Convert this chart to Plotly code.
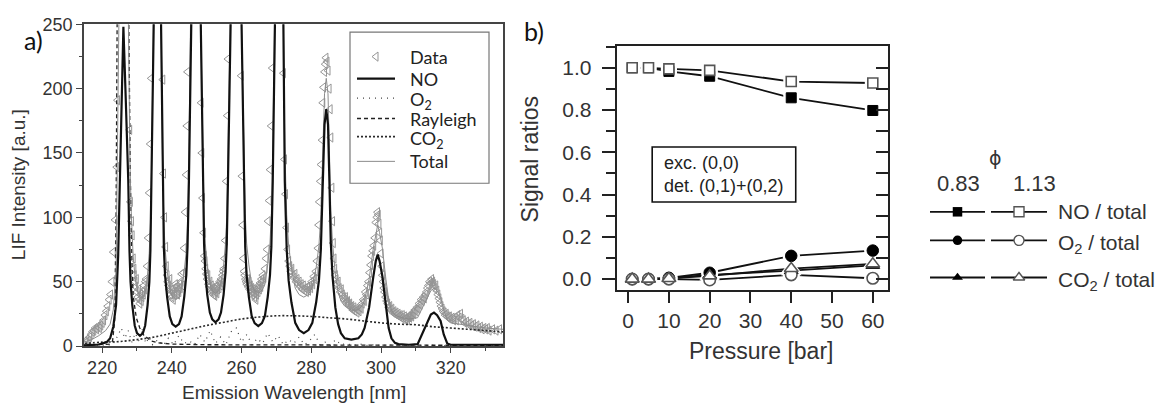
import plotly.graph_objects as go

W, H = 1175, 416

# ---------------- Panel a: spectra (wavelength nm, LIF intensity a.u.) ----------------
no_curve = [(214.8,0.5),(217.0,0.8),(219.0,1.2),(221.3,3),(222.3,6),(223.2,15),(224.0,32),(224.6,70),
    (225.1,128),(225.5,190),(226.1,248),(226.8,190),(227.5,128),(227.85,74),(228.15,50),(228.65,32),
    (229.35,16),(230.0,10),(230.85,8),(231.7,10),(232.35,16),(233.05,32),(233.55,50),(233.85,74),
    (234.2,128),(234.8,250),(235.85,480),(236.9,250),(237.3,128),(237.7,77),(238.05,55),(238.65,38),
    (239.4,23),(240.15,17),(241.1,15),(242.05,17),(242.8,23),(243.55,38),(244.15,55),(244.5,77),
    (244.9,128),(245.4,250),(246.85,480),(248.3,250),(248.9,128),(249.25,79),(249.6,57),(250.15,40),
    (250.9,26),(251.6,20.7),(252.5,18.5),(253.4,20.7),(254.1,26),(254.85,40),(255.4,57),(255.75,79),
    (256.1,128),(256.6,250),(258.3,480),(260.0,250),(260.6,128),(261.05,77),(261.45,55),(262.1,38),
    (262.9,23.4),(263.75,17.8),(264.8,15.5),(265.85,17.8),(266.7,23.4),(267.5,38),(268.15,55),
    (268.55,77),(268.95,128),(269.5,250),(270.75,480),(272.0,250),(272.4,128),(272.95,75),(273.5,51),
    (274.3,34),(275.4,18),(276.5,12.4),(277.85,10),(279.2,12.4),(280.3,18),(281.4,34),(282.2,51),
    (282.75,75),(283.3,128),(283.8,172),(284.3,184),(284.8,172),(285.2,128),(285.6,80),(286.1,54),
    (286.9,30),(287.7,17),(288.5,10),(289.6,6),(291.5,5),(293.5,6),(294.5,9),(295.3,14),(296.0,22),
    (296.6,30),(297.8,54),(298.5,66),(299.05,71),(299.6,66),(300.4,54),(301.4,30),(302.2,14),(303.0,6),
    (304.0,2.5),(305.0,1.5),(308.0,1),(310.5,1.5),(311.4,7),(312.3,13),(313.3,19.5),(314.3,24.5),
    (315.2,26),(316.1,24),(317.1,19.5),(318.0,9),(319.0,2),(320.0,1),(335.0,1)]

total_curve = [(214.8,3),(217,5),(219,8),(221,12),(222.3,17),(223.2,28),(224.0,60),(224.4,140),
    (224.8,250),(226.1,600),(227.6,250),(228.0,140),(228.4,100),(228.9,70),(229.5,52),(230.2,42),
    (230.9,38),(231.7,38),(232.4,42),(233.0,55),(233.5,72),(233.85,95),(234.2,140),(234.75,250),
    (235.85,500),(236.95,250),(237.3,150),(237.7,98),(238.05,76),(238.65,58),(239.4,44),(240.15,38),
    (241.1,36),(242.05,38),(242.8,44),(243.55,58),(244.15,74),(244.5,95),(244.9,150),(245.35,250),
    (246.85,500),(248.3,250),(248.9,150),(249.25,102),(249.6,80),(250.15,62),(250.9,49),(251.6,43),
    (252.5,41),(253.4,43),(254.1,49),(254.85,63),(255.4,80),(255.75,100),(256.1,150),(256.55,250),
    (258.3,500),(260.0,250),(260.6,150),(261.05,103),(261.45,80),(262.1,63),(262.9,48),(263.75,43),
    (264.8,41),(265.85,43),(266.7,48),(267.5,63),(268.15,80),(268.55,103),(268.95,152),(269.45,250),
    (270.75,500),(272.0,250),(272.4,155),(272.95,102),(273.5,78),(274.3,61),(275.4,45),(276.5,40),
    (277.85,38),(279.2,40),(280.3,46),(281.4,61),(282.2,78),(282.75,102),(283.3,152),(283.8,196),
    (284.3,208),(284.8,196),(285.2,152),(285.6,105),(286.1,80),(286.9,56),(287.7,42),(288.5,35),
    (289.6,31),(291.5,28),(293.5,28),(294.5,31),(295.3,36),(296.0,44),(296.6,52),(297.8,76),
    (298.5,88),(299.05,94),(299.6,88),(300.4,76),(301.4,52),(302.2,36),(303.0,28),(304.0,24),
    (306.0,22),(308.0,21),(310.5,22),(311.4,27),(312.3,33),(313.3,38),(314.3,43),(315.2,45),
    (316.1,43),(317.1,38),(318.0,28),(319.0,20),(320.0,18),(325,16),(330,14),(335,13)]

rayleigh_curve = [(215,0.5),(220,0.8),(222,1.5),(223,4),(223.6,20),(224.0,100),(224.3,250),(226.0,700),
    (227.8,250),(228.1,130),(228.6,60),(228.9,39),(229.8,22),(230.8,14),(231.8,9),(232.7,7),(234,4),
    (236,2.5),(240,1.5),(250,1),(270,0.8),(300,0.6),(335,0.5)]

co2_curve = [(215,2),(220,3),(225,3.5),(230,5),(235,7),(240,10),(245,13),(250,16),(255,18.5),(260,21),
    (265,22.5),(270,23.5),(275,23.5),(280,23),(285,22),(290,21),(295,19.5),(300,18),(305,17),(310,16.5),
    (315,15),(320,14),(325,13),(330,12),(335,11)]

o2_curve = [(215,0),(220,0.5),(223,1),(224.5,8),(225.5,14),(226.5,6),(227.5,12),(228.5,3),(229.5,10),
    (230.5,4),(231.5,13),(232.5,2),(233.5,7),(234.5,1),(236,5),(237.5,0.5),(239,6),(240.5,1),(242,8),
    (243.5,2),(245,4),(246.5,1),(248,9),(249.5,3),(251,12),(252.5,2),(254,7),(255.5,1),(257,11),
    (258.5,14),(260,3),(261.5,9),(263,1),(264.5,6),(266,2),(267.5,10),(269,3),(270.5,8),(272,1),
    (273.5,5),(275,2),(276.5,7),(278,1),(279.5,4),(281,9),(282.5,1),(284,3),(285.5,0.5),(287,5),
    (288.5,1),(290,2),(292,0.5),(294,1.5),(296,0.5),(298,1),(300,0.5),(303,1),(306,0.3),(309,1),
    (312,0.3),(315,0.8),(318,0.3),(321,0.5),(325,0.3),(330,0.3),(335,0.2)]

data_points = [(215.2,3),(215.6,5),(216.0,4),(216.4,7),(216.8,9),(217.2,11),(217.6,12),(218.0,14),(218.4,13),
    (218.8,15),(219.2,14),(219.6,16),(220.0,18),(220.4,20),(220.8,24),(221.2,27),(221.6,31),(222.0,36),
    (222.4,40),(222.8,50),(223.2,73),(223.7,98),(224.2,139),(224.4,191),
    (227.9,168),(228.1,112),(228.4,97),(228.6,86),(228.9,68),(229.1,60),
    (229.2,55),(229.4,50),(229.6,46),(229.8,52),(230.0,42),(230.2,38),(230.4,44),(230.6,36),(230.8,33),
    (231.0,40),(231.2,35),(231.4,38),(231.6,42),(231.8,40),(232.0,47),(232.2,44),(232.4,50),(232.6,52),
    (232.9,62),(233.2,84),(233.5,119),(233.8,157),(234.1,208),
    (237.4,207),(237.6,134),(237.9,100),(238.2,77),(238.4,62),
    (238.6,55),(238.8,50),(239.0,47),(239.2,44),(239.4,52),(239.6,40),(239.8,44),(240.0,38),(240.2,42),
    (240.4,36),(240.6,45),(240.8,40),(241.0,48),(241.2,42),(241.4,46),(241.6,40),(241.8,44),(242.0,42),
    (242.2,48),(242.4,45),(242.6,50),(242.8,56),(243.0,47),(243.3,57),(243.5,76),(243.8,104),(244.1,133),
    (244.3,171),(244.5,213),
    (248.4,189),(248.6,150),(248.8,115),(249.1,88),(249.3,70),
    (249.5,66),(249.7,60),(249.9,56),(250.1,52),(250.3,55),(250.5,48),(250.7,46),(250.9,50),(251.1,44),
    (251.3,47),(251.5,42),(251.7,45),(251.9,40),(252.1,44),(252.3,39),(252.5,42),(252.7,46),(252.9,41),
    (253.1,44),(253.3,48),(253.5,45),(253.7,50),(253.9,47),(254.1,52),(254.3,49),(254.5,55),(254.7,58),
    (254.9,60),(255.1,68),(255.3,82),(255.6,128),(255.9,179),(256.1,223),
    (259.9,210),(260.1,132),(260.3,94),(260.5,68),(260.7,58),
    (260.9,55),(261.1,52),(261.3,50),(261.5,48),(261.7,52),(261.9,46),(262.1,50),(262.3,44),(262.5,47),
    (262.7,42),(262.9,45),(263.1,40),(263.3,44),(263.5,41),(263.7,38),(263.9,43),(264.1,36),(264.3,40),
    (264.5,45),(264.7,42),(264.9,47),(265.1,44),(265.3,49),(265.5,46),(265.7,52),(265.9,50),(266.1,55),
    (266.4,53),(266.7,60),(267.0,68),(267.3,75),(267.6,97),(267.9,113),(268.2,137),(268.5,171),(268.8,216),
    (272.0,212),(272.3,145),(272.6,118),(272.9,92),(273.2,75),(273.5,66),
    (273.8,62),(274.1,58),(274.4,60),(274.7,55),(275.0,53),(275.3,56),(275.6,50),(275.9,52),(276.2,48),
    (276.5,50),(276.8,46),(277.1,48),(277.4,44),(277.7,47),(278.0,43),(278.3,45),(278.6,42),(278.9,46),
    (279.2,43),(279.5,47),(279.8,45),(280.1,50),(280.4,48),(280.7,54),(281.0,52),(281.3,58),(281.6,66),
    (281.9,76),(282.1,94),(282.3,112),(282.6,128),(282.8,141),(283.1,160),(283.3,189),(283.5,201),
    (283.8,213),(284.0,219),(284.2,224),(284.5,221),(284.8,214),(285.1,200),(285.4,184),(285.6,162),
    (285.9,123),(286.1,97),(286.3,80),(286.5,68),(286.7,60),(286.9,55),
    (287.1,52),(287.4,48),(287.7,50),(288.0,45),(288.3,42),(288.6,44),(288.9,40),(289.2,38),(289.5,36),
    (289.8,38),(290.1,34),(290.4,35),(290.7,32),(291.0,33),(291.3,30),(291.6,31),(291.9,28),(292.2,30),
    (292.5,27),(292.8,29),(293.1,26),(293.4,28),(293.7,27),(294.0,30),(294.3,29),(294.6,33),(294.9,36),
    (295.2,35),(295.5,42),(295.8,40),(296.1,47),(296.4,50),(296.7,57),(297.0,63),(297.3,70),(297.6,74),
    (297.9,78),(298.2,84),(298.5,96),(298.8,100),(299.0,104),(299.2,102),(299.4,95),(299.6,88),(299.8,82),
    (300.0,72),(300.2,62),(300.4,55),(300.6,50),(300.8,45),
    (301.0,42),(301.3,38),(301.6,35),(301.9,33),(302.2,30),(302.5,31),(302.8,28),(303.1,29),(303.4,26),
    (303.7,27),(304.0,25),(304.3,26),(304.6,24),(304.9,25),(305.2,23),(305.5,24),(305.8,22),(306.1,24),
    (306.4,21),(306.7,23),(307.0,21),(307.3,22),(307.6,20),(307.9,23),(308.2,22),(308.5,24),(308.8,23),
    (309.1,26),(309.4,25),(309.7,28),(310.0,27),(310.3,30),(310.6,29),(310.9,33),(311.2,32),(311.5,36),
    (311.8,35),(312.1,38),(312.4,37),(312.7,40),(313.0,42),(313.3,45),(313.6,47),(313.9,50),(314.2,49),
    (314.5,52),(314.8,50),(315.1,48),(315.4,45),(315.7,47),(316.0,43),(316.3,40),(316.6,37),(316.9,34),
    (317.2,31),(317.5,29),(317.8,27),(318.1,26),(318.4,24),(318.7,25),(319.0,23),(319.3,22),(319.6,23),
    (320.0,21),(320.4,22),(320.8,20),(321.2,22),(321.6,20),(322.0,24),(322.4,22),(322.8,25),(323.2,21),
    (323.6,20),(324.0,18),(324.5,19),(325.0,17),(325.5,18),(326.0,16),(326.5,17),(327.0,15),(327.5,16),
    (328.0,14),(328.5,15),(329.0,13),(329.5,14),(330.0,13),(330.5,14),(331.0,12),(332.0,13),(333.0,12),
    (334.0,13)]
legend_a_labels = ["Data", "NO", "O<sub>2</sub>", "Rayleigh", "CO<sub>2</sub>", "Total"]

# ---------------- Panel b: signal ratios vs pressure ----------------
pressure = [1, 5, 10, 20, 40, 60]
no_ratio_083 = [1.0, 1.0, 0.983, 0.96, 0.858, 0.798]
no_ratio_113 = [1.0, 1.0, 0.995, 0.988, 0.935, 0.928]
o2_ratio_083 = [0.0, 0.0, 0.006, 0.03, 0.11, 0.135]
o2_ratio_113 = [0.0, 0.0, 0.0, -0.004, 0.02, 0.004]
co2_ratio_083 = [0.0, 0.0, 0.004, 0.02, 0.04, 0.065]
co2_ratio_113 = [0.0, 0.0, 0.003, 0.015, 0.05, 0.072]
phi_labels = ["0.83", "1.13"]
ratio_labels = ["NO / total", "O<sub>2</sub> / total", "CO<sub>2</sub> / total"]
ratio_symbols = ["square", "circle", "triangle-up"]


def split(points):
    return [p[0] for p in points], [p[1] for p in points]


def px(x):
    return x / W


def py(y):
    return 1 - y / H


AX = "Liberation Sans"
CAL = "Lato"
DATA_COL = "#959595"
fig = go.Figure()

# ---- panel a traces ----
dx, dy = split(data_points)
fig.add_trace(go.Scatter(x=dx, y=dy, mode="markers", showlegend=False,
    marker=dict(symbol="triangle-left-open", size=8, color=DATA_COL, line=dict(width=1.0, color=DATA_COL))))
cx, cy = split(co2_curve)
fig.add_trace(go.Scatter(x=cx, y=cy, mode="lines", showlegend=False, line_shape="spline",
    line=dict(color="#2a2a2a", width=1.6, dash="2px,2px")))
ox, oy = split(o2_curve)
fig.add_trace(go.Scatter(x=ox, y=oy, mode="lines", showlegend=False,
    line=dict(color="#444", width=1.2, dash="1px,5px")))
rx, ry = split(rayleigh_curve)
fig.add_trace(go.Scatter(x=rx, y=ry, mode="lines", showlegend=False,
    line=dict(color="#222", width=1.3, dash="4px,3px")))
tx, ty = split(total_curve)
fig.add_trace(go.Scatter(x=tx, y=ty, mode="lines", showlegend=False,
    line=dict(color="#8c8c8c", width=1)))
nx, ny = split(no_curve)
fig.add_trace(go.Scatter(x=nx, y=ny, mode="lines", showlegend=False,
    line=dict(color="#111", width=2.2)))

# ---- panel b traces ----
series_b = [
    (no_ratio_083, "square", True), (o2_ratio_083, "circle", True), (co2_ratio_083, "triangle-up", True),
    (no_ratio_113, "square", False), (o2_ratio_113, "circle", False), (co2_ratio_113, "triangle-up", False),
]
msize = {"square": 10, "circle": 11.5, "triangle-up": 12}
for vals, sym, filled in series_b:
    fig.add_trace(go.Scatter(x=pressure, y=vals, mode="lines", xaxis="x2", yaxis="y2", showlegend=False,
                             line=dict(color="#111", width=1.8)))
for vals, sym, filled in series_b:
    fig.add_trace(go.Scatter(x=pressure, y=vals, mode="markers", xaxis="x2", yaxis="y2", showlegend=False,
                             marker=dict(symbol=sym, size=msize[sym] + 6, color="white", line=dict(width=0))))
for vals, sym, filled in series_b:
    if filled:
        mk = dict(symbol=sym, size=msize[sym], color="#000", line=dict(width=1, color="#000"))
    else:
        mk = dict(symbol=sym, size=msize[sym], color="white", line=dict(width=1.6, color="#555"))
    fig.add_trace(go.Scatter(x=pressure, y=vals, mode="markers", xaxis="x2", yaxis="y2", showlegend=False,
                             marker=mk))
fig.add_trace(go.Scatter(x=[None], y=[None], xaxis="x2", yaxis="y3", showlegend=False, hoverinfo="skip"))

# ---- legend keys (hidden overlay axes in pixel units) ----
KX, KY = "x4", "y4"
leg_a_rows = [49, 72, 92.5, 114, 133, 159]
key_a_x0, key_a_x1 = 357, 395
fig.add_trace(go.Scatter(x=[(key_a_x0 + key_a_x1) / 2], y=[leg_a_rows[0]], mode="markers", xaxis=KX, yaxis=KY,
    showlegend=False, marker=dict(symbol="triangle-left-open", size=8, color=DATA_COL, line=dict(width=1.0))))
key_a_styles = [dict(color="#111", width=2.2), dict(color="#444", width=1.2, dash="1px,5px"),
                dict(color="#222", width=1.3, dash="4px,3px"), dict(color="#2a2a2a", width=1.6, dash="2px,2px"),
                dict(color="#8c8c8c", width=1)]
for i, st in enumerate(key_a_styles):
    yy = leg_a_rows[i + 1]
    fig.add_trace(go.Scatter(x=[key_a_x0, key_a_x1], y=[yy, yy], mode="lines", xaxis=KX, yaxis=KY,
                             showlegend=False, line=st))

row_y = [212, 242, 281]
col_spans = [(930, 985), (991, 1047)]
for r, sym in enumerate(ratio_symbols):
    for c, (x0, x1) in enumerate(col_spans):
        xm = (x0 + x1) / 2
        fig.add_trace(go.Scatter(x=[x0, x1], y=[row_y[r]] * 2, mode="lines", xaxis=KX, yaxis=KY,
                                 showlegend=False, line=dict(color="#111", width=1.8)))
        if c == 0:
            mk = dict(symbol=sym, size=9.5, color="#000")
        else:
            mk = dict(symbol=sym, size=10, color="white", line=dict(width=1.4, color="#555"))
        fig.add_trace(go.Scatter(x=[xm], y=[row_y[r]], mode="markers", xaxis=KX, yaxis=KY,
                                 showlegend=False, marker=mk))

tickfont_a = dict(family=AX, size=18, color="#333")
tickfont_b = dict(family=AX, size=21, color="#333")

fig.update_layout(
    width=W, height=H, margin=dict(l=0, r=0, t=0, b=0),
    plot_bgcolor="rgba(0,0,0,0)", paper_bgcolor="white", showlegend=False,
    xaxis=dict(domain=[px(84), px(503)], range=[214.8, 335], tick0=220, dtick=20, ticks="outside",
               ticklen=5, tickwidth=1.3, tickcolor="#444", showline=True, linecolor="#444", linewidth=1.5,
               mirror=True, showgrid=False, zeroline=False, tickfont=tickfont_a, anchor="y",
               minor=dict(dtick=10, ticks="outside", ticklen=3, tickwidth=1.2, tickcolor="#444")),
    yaxis=dict(domain=[py(353), py(15)], range=[0, 250], tick0=0, dtick=50, ticks="outside",
               ticklen=6, tickwidth=1.3, tickcolor="#444", showline=True, linecolor="#444", linewidth=1.5,
               mirror=True, showgrid=False, zeroline=False, tickfont=tickfont_a, anchor="x",
               minor=dict(dtick=25, ticks="outside", ticklen=3.5, tickwidth=1.2, tickcolor="#444")),
    xaxis2=dict(domain=[px(616.7), px(888.3)], range=[-2.8, 63.8], tick0=0, dtick=10, ticks="outside",
                ticklen=11, tickwidth=2, tickcolor="#222", showline=True, linecolor="#222", linewidth=2,
                mirror=True, showgrid=False, zeroline=False, tickfont=tickfont_b, anchor="y2"),
    yaxis2=dict(domain=[py(294), py(38.3)], range=[-0.051, 1.101], tick0=0, dtick=0.2, tickformat=".1f",
                ticks="outside", ticklen=13, tickwidth=2, tickcolor="#222", showline=True, linecolor="#222",
                linewidth=2, mirror=True, showgrid=False, zeroline=False, tickfont=tickfont_b, anchor="x2",
                ticklabelstandoff=6,
                minor=dict(dtick=0.1, ticks="outside", ticklen=9, tickwidth=2, tickcolor="#222")),
    yaxis3=dict(overlaying="y2", side="right", anchor="x2", range=[-0.051, 1.101], tick0=0, dtick=0.1,
                ticks="inside", ticklen=12, tickwidth=2, tickcolor="#222", showticklabels=False,
                showline=False, showgrid=False, zeroline=False),
    xaxis4=dict(domain=[0, 1], range=[0, W], visible=False, fixedrange=True, anchor="y4"),
    yaxis4=dict(domain=[0, 1], range=[H, 0], visible=False, fixedrange=True, anchor="x4"),
)

fig.add_shape(type="rect", xref="x2", yref="y2", x0=5.9, x1=41.1, y0=0.365, y1=0.625,
              line=dict(color="#111", width=1.6), fillcolor="rgba(0,0,0,0)")
fig.add_shape(type="rect", xref="paper", yref="paper", x0=px(350), x1=px(489), y0=py(182), y1=py(23.3),
              line=dict(color="#777", width=1.2), fillcolor="rgba(0,0,0,0)")

ann = []
ann.append(dict(text="a)", x=px(33), y=py(31), font=dict(family=CAL, size=25, color="#111")))
ann.append(dict(text="b)", x=px(534), y=py(22), font=dict(family=CAL, size=25, color="#111")))
ann.append(dict(text="LIF Intensity [a.u.]", x=px(18), y=py(184), textangle=-90,
                font=dict(family=AX, size=19, color="#333")))
ann.append(dict(text="Emission Wavelength [nm]", x=px(294), y=py(402),
                font=dict(family=AX, size=19, color="#333")))
ann.append(dict(text="Signal ratios", x=px(530), y=py(157), textangle=-90,
                font=dict(family=AX, size=23, color="#333")))
ann.append(dict(text="Pressure [bar]", x=px(761), y=py(358),
                font=dict(family=AX, size=23, color="#333")))
ann.append(dict(text="exc. (0,0)<br>det. (0,1)+(0,2)", x=8.2, y=0.497, xref="x2", yref="y2",
                xanchor="left", align="left", font=dict(family=AX, size=18, color="#222")))
ann.append(dict(text="\u03d5", x=px(995), y=py(155), font=dict(family="DejaVu Sans", size=19, color="#333")))
ann.append(dict(text=phi_labels[0], x=px(958), y=py(182), font=dict(family=AX, size=22, color="#333")))
ann.append(dict(text=phi_labels[1], x=px(1034), y=py(182), font=dict(family=AX, size=22, color="#333")))
for r, lab in enumerate(ratio_labels):
    dy_sub = 4 if "<sub>" in lab else 0
    ann.append(dict(text=lab, x=px(1056), y=py(row_y[r] + dy_sub), xanchor="left",
                    font=dict(family=AX, size=21, color="#333")))
for i, lab in enumerate(legend_a_labels):
    dy_sub = 3 if "<sub>" in lab else 0
    ann.append(dict(text=lab, x=px(408), y=py(leg_a_rows[i] + dy_sub), xanchor="left",
                    font=dict(family=CAL, size=18, color="#222")))

for a in ann:
    a.setdefault("xref", "paper")
    a.setdefault("yref", "paper")
    a.setdefault("xanchor", "center")
    a.setdefault("yanchor", "middle")
    a["showarrow"] = False
    fig.add_annotation(**a)

fig.write_html("out.html", config={"displayModeBar": False},
               post_script="document.body.style.margin='0px'; document.body.style.overflow='hidden';")
